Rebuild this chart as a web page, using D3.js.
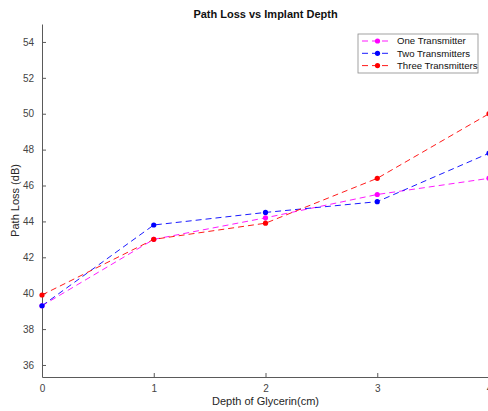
<!DOCTYPE html>
<html>
<head>
<meta charset="utf-8">
<script src="https://cdn.jsdelivr.net/npm/d3@7"></script>
<style>
  html, body { margin: 0; padding: 0; background: #fff; }
  svg { display: block; font-family: "Liberation Sans", Arial, Helvetica, sans-serif; }
</style>
</head>
<body>
<script>
// Path loss (dB) at each glycerin depth (cm)
const depths = [0, 1, 2, 3, 4];
const oneTx   = [39.3, 43.0, 44.2, 45.5, 46.4];
const twoTx   = [39.3, 43.8, 44.5, 45.1, 47.8];
const threeTx = [39.9, 43.0, 43.9, 46.4, 50.0];
const seriesNames = ["One Transmitter", "Two Transmitters", "Three Transmitters"];
const seriesColors = ["#ff00ff", "#0000ff", "#ff0000"];
const yTicks = [36, 38, 40, 42, 44, 46, 48, 50, 52, 54];
const xTicks = [0, 1, 2, 3, 4];

const W = 488, H = 411;
const margin = { left: 42, right: -1, top: 24, bottom: 34 };
const plotW = W - margin.left - margin.right;
const plotH = H - margin.top - margin.bottom;

const svg = d3.select("body").append("svg").attr("width", W).attr("height", H);

const x = d3.scaleLinear().domain([0, 4]).range([margin.left, margin.left + plotW]);
const y = d3.scaleLinear().domain([35.33, 55]).range([margin.top + plotH, margin.top]);

const axisColor = "#5a5a5a";
const labelColor = "#444";

// x axis with inward ticks
const xAxis = svg.append("g")
  .attr("transform", `translate(0,${margin.top + plotH})`)
  .call(d3.axisBottom(x).tickValues(xTicks).tickSize(-4).tickPadding(8).tickSizeOuter(0).tickFormat(d3.format("d")));
// y axis with inward ticks
const yAxis = svg.append("g")
  .attr("transform", `translate(${margin.left},0)`)
  .call(d3.axisLeft(y).tickValues(yTicks).tickSize(-4).tickPadding(8).tickSizeOuter(0).tickFormat(d3.format("d")));

[xAxis, yAxis].forEach(g => {
  g.select(".domain").attr("stroke", axisColor).attr("stroke-width", 1);
  g.selectAll(".tick line").attr("stroke", axisColor);
  g.selectAll(".tick text").attr("fill", labelColor).style("font-size", "10px")
    .style("font-family", "'Liberation Sans', Arial, sans-serif");
});

// title and axis labels
svg.append("text")
  .attr("x", margin.left + plotW / 2).attr("y", 18)
  .attr("text-anchor", "middle")
  .style("font-size", "11px").style("font-weight", "bold").attr("fill", "#111")
  .text("Path Loss vs Implant Depth");

svg.append("text")
  .attr("x", margin.left + plotW / 2).attr("y", 405)
  .attr("text-anchor", "middle")
  .style("font-size", "11px").attr("fill", "#262626")
  .text("Depth of Glycerin(cm)");

svg.append("text")
  .attr("transform", `translate(19,${margin.top + plotH / 2}) rotate(-90)`)
  .attr("text-anchor", "middle")
  .style("font-size", "11px").attr("fill", "#262626")
  .text("Path Loss (dB)");

// series lines and markers
const seriesData = [oneTx, twoTx, threeTx];
const line = d3.line().x((d, i) => x(depths[i])).y(d => y(d));
const plot = svg.append("g");

seriesData.forEach((vals, s) => {
  plot.append("path")
    .datum(vals)
    .attr("fill", "none")
    .attr("stroke", seriesColors[s])
    .attr("stroke-width", 0.9)
    .attr("stroke-dasharray", "6,4")
    .attr("d", line);
  plot.selectAll(null)
    .data(vals)
    .enter().append("circle")
    .attr("cx", (d, i) => x(depths[i]))
    .attr("cy", d => y(d))
    .attr("r", 2.6)
    .attr("fill", seriesColors[s]);
});

// legend
const lg = svg.append("g").attr("transform", "translate(358,34)");
lg.append("rect")
  .attr("width", 120).attr("height", 39)
  .attr("fill", "#fff").attr("stroke", "#8a8a8a").attr("stroke-width", 0.8);
seriesNames.forEach((name, i) => {
  const yy = 7 + i * 12.3;
  lg.append("line")
    .attr("x1", 4).attr("x2", 34).attr("y1", yy).attr("y2", yy)
    .attr("stroke", seriesColors[i]).attr("stroke-width", 0.9)
    .attr("stroke-dasharray", "6,4");
  lg.append("circle").attr("cx", 19.5).attr("cy", yy).attr("r", 2.6).attr("fill", seriesColors[i]);
  lg.append("text")
    .attr("x", 39).attr("y", yy + 3.4)
    .style("font-size", "9.6px").attr("fill", "#111")
    .text(name);
});
</script>
</body>
</html>
